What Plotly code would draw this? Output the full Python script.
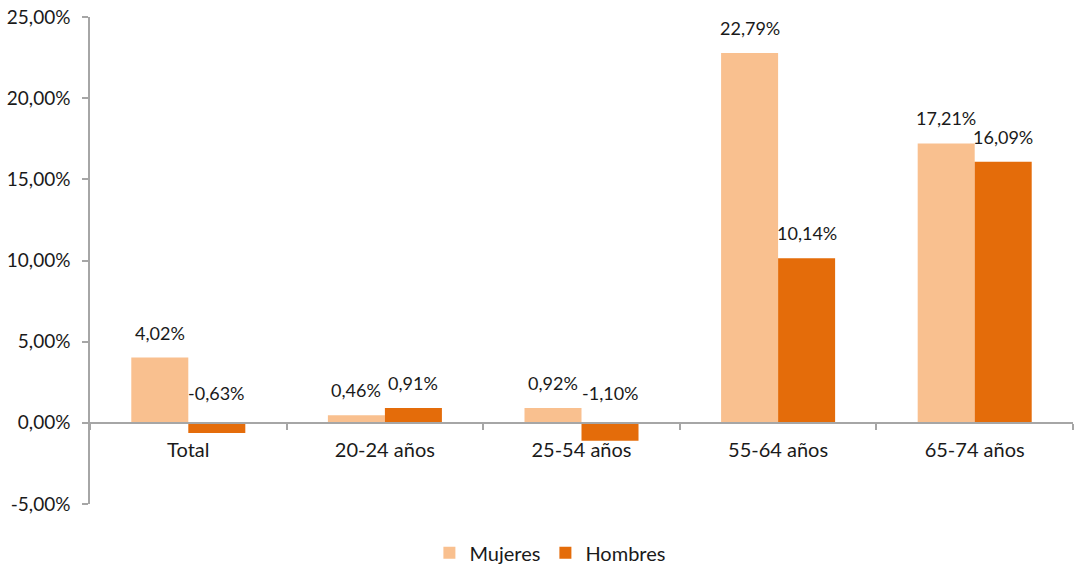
import plotly.graph_objects as go

categorias = ["Total", "20-24 años", "25-54 años", "55-64 años", "65-74 años"]
mujeres = [4.02, 0.46, 0.92, 22.79, 17.21]
hombres = [-0.63, 0.91, -1.10, 10.14, 16.09]
ticks_y = [-5, 0, 5, 10, 15, 20, 25]

COL_MUJ = "#F9C08F"
COL_HOM = "#E46C0A"
FONT = "Lato"
TXT = "#1a1a1a"


def pct(v):
    return f"{v:.2f}".replace(".", ",") + "%"


fig = go.Figure()
fig.add_trace(go.Bar(x=categorias, y=mujeres, name="Mujeres",
                     marker=dict(color=COL_MUJ, line=dict(width=0))))
fig.add_trace(go.Bar(x=categorias, y=hombres, name="Hombres",
                     marker=dict(color=COL_HOM, line=dict(width=0))))

# value labels above each bar (negative bars get their label above the zero line)
for serie, off in ((mujeres, -0.5), (hombres, 0.5)):
    for i, v in enumerate(serie):
        fig.add_annotation(
            x=i, xshift=off * 57, y=max(v, 0), yref="y", xref="x",
            text=pct(v), showarrow=False, yanchor="bottom",
            yshift=12 if v >= 0 else 17,
            font=dict(family=FONT, size=18, color=TXT),
        )

fig.update_layout(
    width=1075, height=564,
    margin=dict(l=90, r=2, t=17, b=60, autoexpand=False),
    paper_bgcolor="white", plot_bgcolor="white",
    barmode="group", bargap=0.42, bargroupgap=0,
    separators=",.",
    font=dict(family=FONT, size=19, color=TXT),
    showlegend=True,
    legend=dict(orientation="h", x=0.512, xanchor="center", xref="container",
                y=0.02, yanchor="middle", yref="container",
                font=dict(family=FONT, size=20, color=TXT), itemwidth=30, traceorder="normal"),
    xaxis=dict(
        type="category", anchor="free", position=1 / 6,
        showline=True, linecolor="#A6A6A6", linewidth=1.5,
        ticks="outside", tickson="boundaries", ticklen=6, tickcolor="#A6A6A6", tickwidth=1.5,
        ticklabelstandoff=9,
        showgrid=False, tickfont=dict(family=FONT, size=20, color=TXT),
    ),
    yaxis=dict(
        range=[-5, 25], tickvals=ticks_y, ticktext=[pct(t) for t in ticks_y],
        showline=True, linecolor="#A6A6A6", linewidth=1.5,
        ticks="outside", ticklen=6, tickcolor="#A6A6A6", tickwidth=1.5,
        ticklabelstandoff=8,
        showgrid=False, zeroline=False,
        tickfont=dict(family=FONT, size=19, color=TXT),
    ),
)

fig.write_html("out.html")
